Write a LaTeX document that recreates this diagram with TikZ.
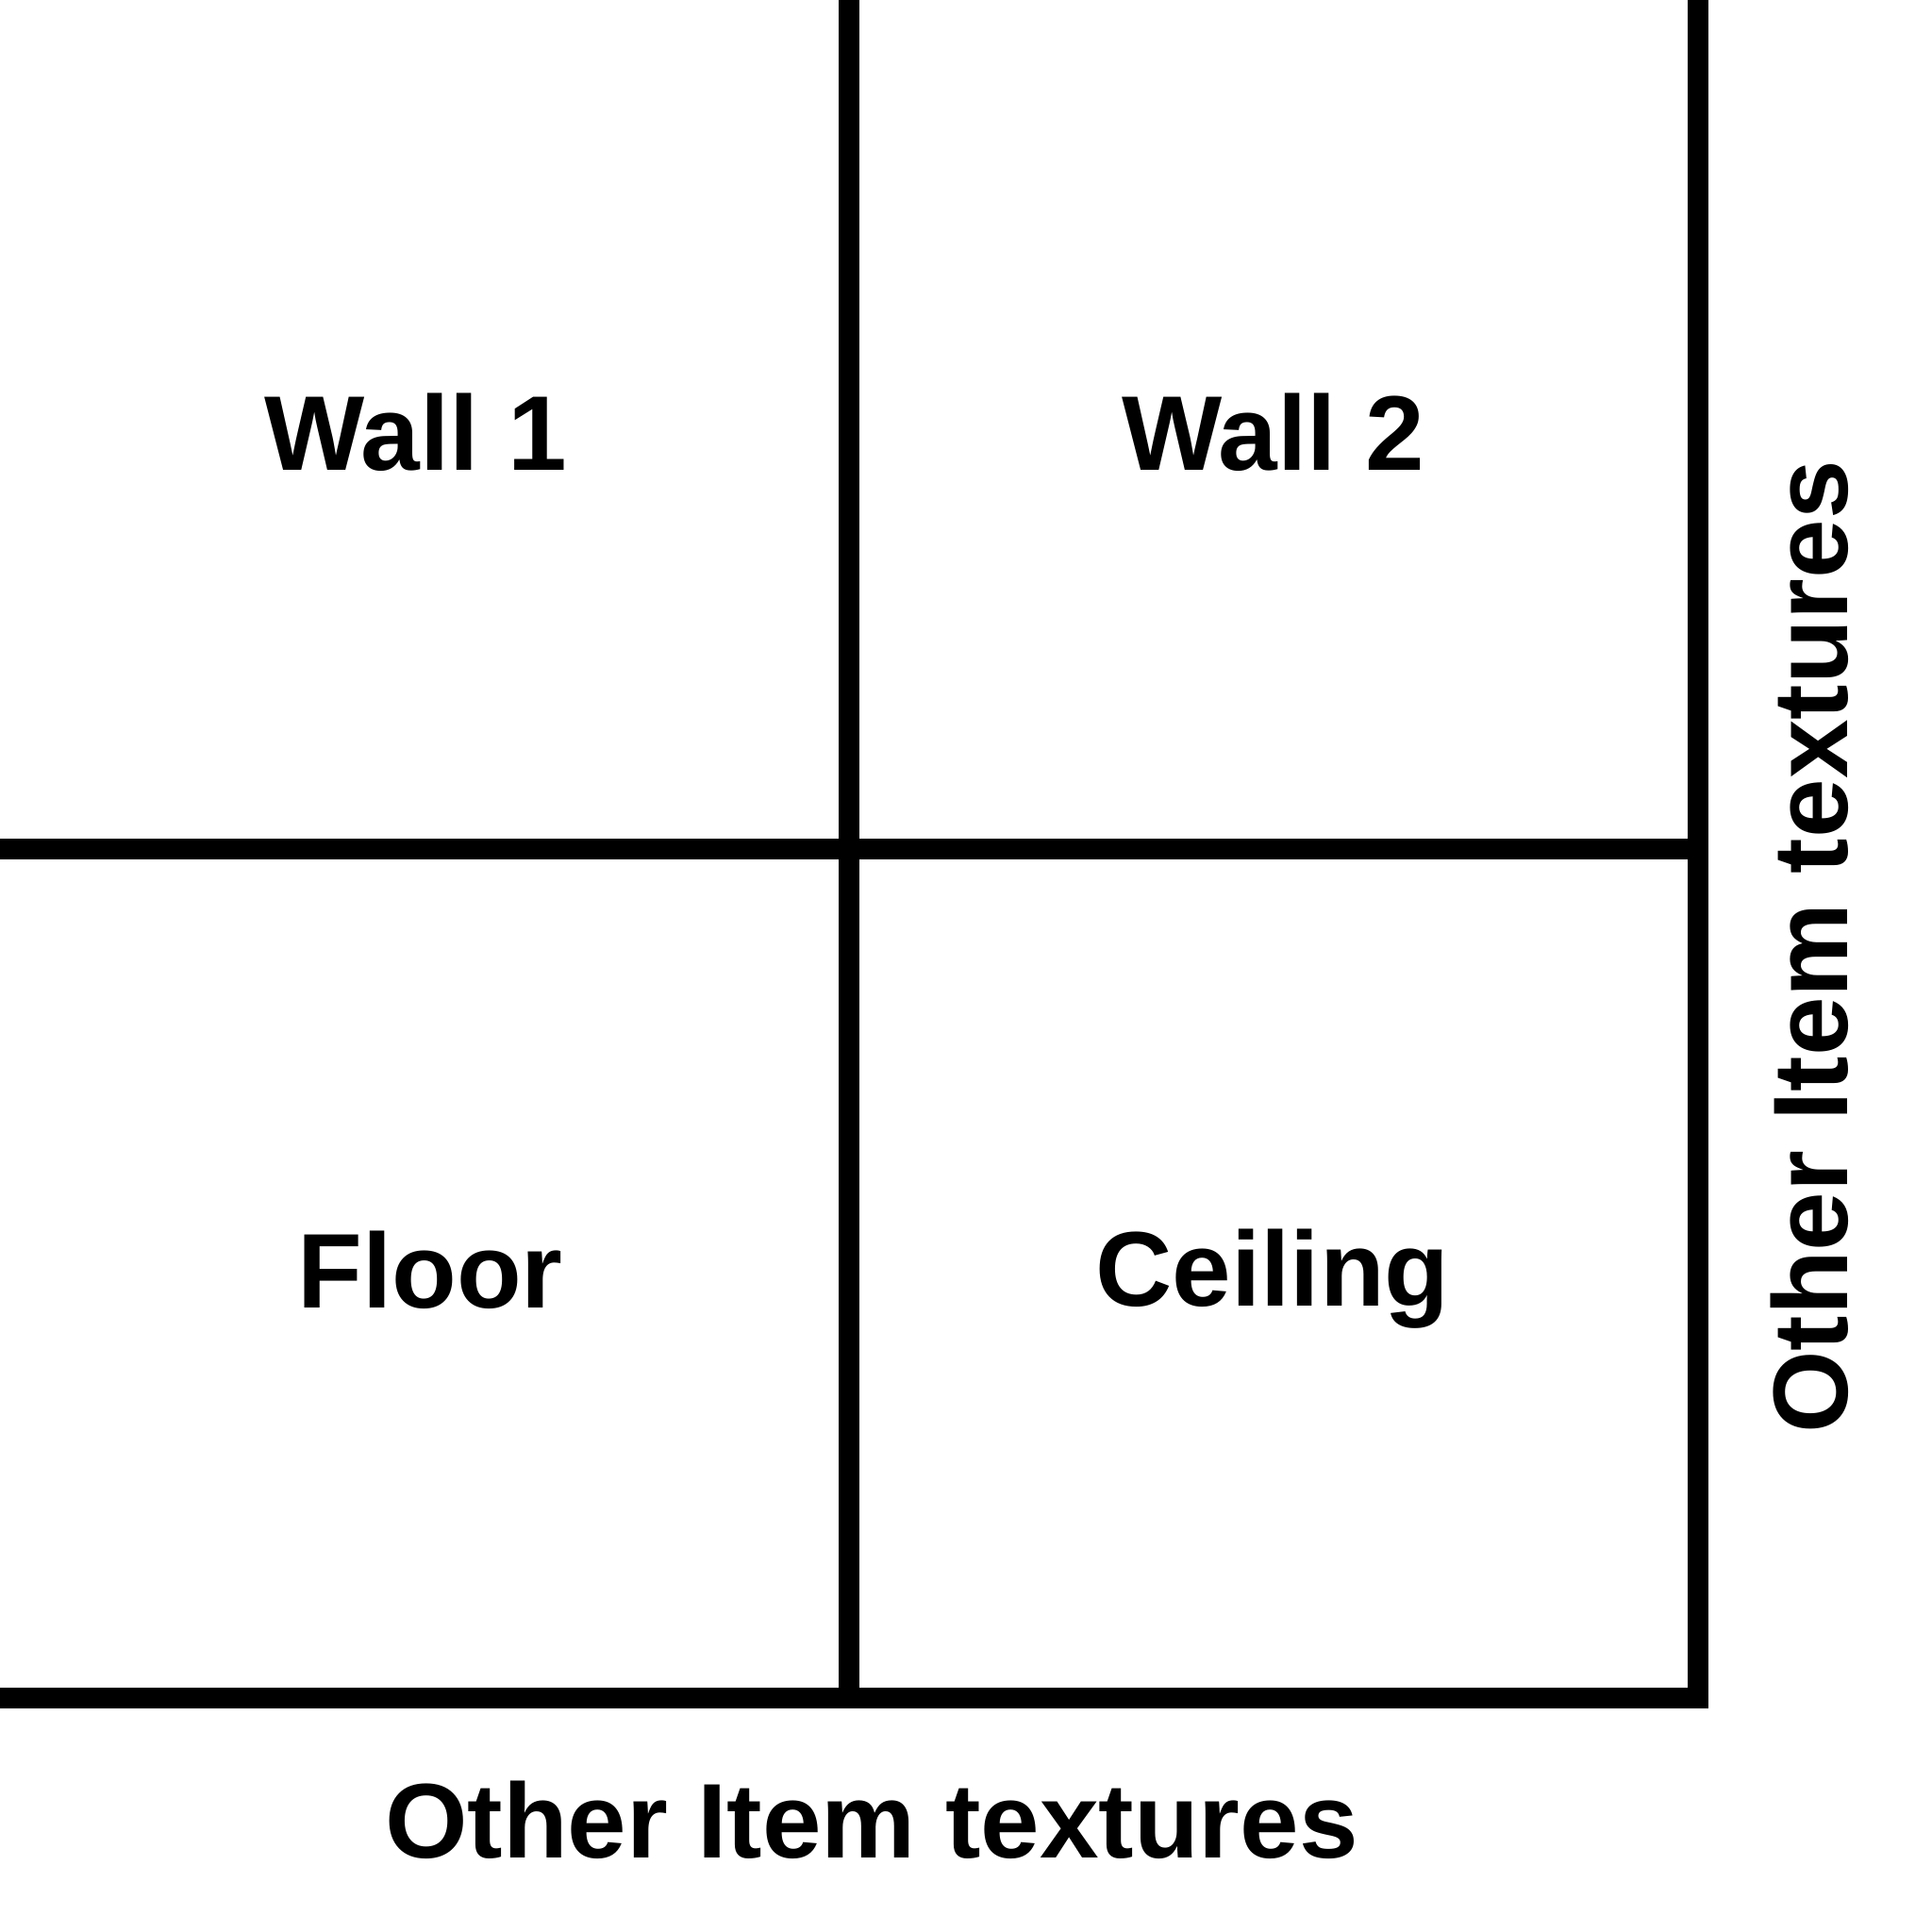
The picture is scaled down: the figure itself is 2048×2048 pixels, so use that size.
\documentclass[tikz,border=0pt]{standalone}
\usepackage{fontspec}
\setmainfont{Liberation Sans}
\begin{document}
\begin{tikzpicture}[x=0.01cm,y=-0.01cm,line cap=butt,line join=miter,
    lbl/.style={anchor=base,inner sep=0pt,font=\fontsize{32}{38}\selectfont\bfseries}]
  \useasboundingbox (0,0) rectangle (2048,2048);
  \draw[line width=0.22cm] (0,900) -- (1800,900);
  \draw[line width=0.22cm] (900,0) -- (900,1800);
  \draw[line width=0.22cm] (1800,0) -- (1800,1800) -- (0,1800);
  \node[lbl] (wallA) at (441,498) {Wall 1};
  \node[lbl] (wallB) at (1350,498) {Wall 2};
  \node[lbl] (floor) at (456,1386) {Floor};
  \node[lbl] (ceil) at (1349,1384) {Ceiling};
  \node[lbl] (otherB) at (924,1969) {Other Item textures};
  \node[lbl,rotate=90] (otherR) at (1958,1004) {Other Item textures};
\end{tikzpicture}
\end{document}
